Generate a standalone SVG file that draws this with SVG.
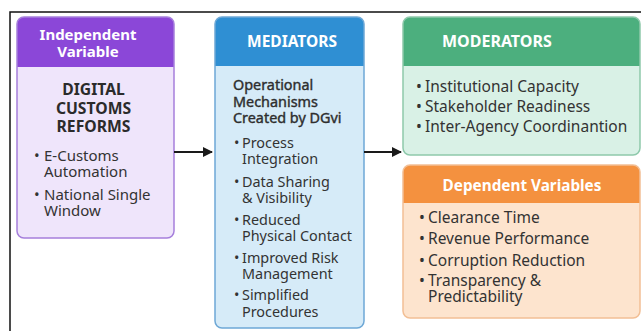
<svg xmlns="http://www.w3.org/2000/svg" width="641" height="331" viewBox="0 0 641 331">
<defs>
<style>
text{font-family:"Noto Sans","DejaVu Sans",sans-serif;fill:#333;}
.hd{font-weight:700;fill:#fff;}
.tt{font-weight:700;font-size:15.7px;fill:#2b2b2b;}
.p{font-size:15px;}
.md{font-size:14.4px;}
.m{font-size:14.4px;font-weight:400;fill:#2e2e2e;stroke:#2e2e2e;stroke-width:0.4px;}
.g{font-size:15.5px;}
.arrow{stroke:#1a1a1a;stroke-width:2;fill:none;}
</style>
<marker id="ah" viewBox="0 0 10 10" refX="9" refY="5" markerWidth="5" markerHeight="5" orient="auto" markerUnits="strokeWidth">
<path d="M0,0 L10,5 L0,10 z" fill="#1a1a1a"/>
</marker>
<clipPath id="cp"><rect x="17" y="17" width="157" height="221" rx="7"/></clipPath>
<clipPath id="cb"><rect x="215" y="17" width="149" height="311" rx="7"/></clipPath>
<clipPath id="cg"><rect x="403" y="17" width="237" height="138" rx="7"/></clipPath>
<clipPath id="co"><rect x="403" y="165" width="237" height="153" rx="7"/></clipPath>
</defs>
<rect width="641" height="331" fill="#fff"/>
<path d="M10,331 L10,12 L641,12" stroke="#111" stroke-width="1.5" fill="none"/>

<g id="independent">
<g clip-path="url(#cp)">
<rect x="17" y="17" width="157" height="221" fill="#efe5fb"/>
<rect x="17" y="17" width="157" height="50" fill="#8b47d8"/>
</g>
<rect x="17" y="17" width="157" height="221" rx="7" fill="none" stroke="#a67fdc" stroke-width="1.5"/>
<text class="hd" font-size="15" text-anchor="middle"><tspan x="88" y="40">Independent</tspan><tspan x="88" y="57">Variable</tspan></text>
<text class="tt" text-anchor="middle"><tspan x="93.5" y="95">DIGITAL</tspan><tspan x="93.5" y="113.5">CUSTOMS</tspan><tspan x="93.5" y="132">REFORMS</tspan></text>
<text class="p"><tspan x="34" y="161">•</tspan><tspan x="44">E-Customs</tspan><tspan x="44" y="177">Automation</tspan></text>
<text class="p"><tspan x="34" y="200">•</tspan><tspan x="44">National Single</tspan><tspan x="44" y="216">Window</tspan></text>
</g>

<g id="mediators">
<g clip-path="url(#cb)">
<rect x="215" y="17" width="149" height="311" fill="#d6ebf8"/>
<rect x="215" y="17" width="149" height="49" fill="#2f8fd3"/>
</g>
<rect x="215" y="17" width="149" height="311" rx="7" fill="none" stroke="#6ea8d6" stroke-width="1.5"/>
<text class="hd" font-size="15.5" x="292" y="47" text-anchor="middle">MEDIATORS</text>
<text class="m"><tspan x="233" y="90">Operational</tspan><tspan x="233" y="106.5">Mechanisms</tspan><tspan x="233" y="123">Created by DGvi</tspan></text>
<text class="md"><tspan x="234" y="148">•</tspan><tspan x="242">Process</tspan><tspan x="242" y="164">Integration</tspan></text>
<text class="md"><tspan x="234" y="187">•</tspan><tspan x="242">Data Sharing</tspan><tspan x="242" y="203">&amp; Visibility</tspan></text>
<text class="md"><tspan x="234" y="225">•</tspan><tspan x="242">Reduced</tspan><tspan x="242" y="241">Physical Contact</tspan></text>
<text class="md"><tspan x="234" y="263">•</tspan><tspan x="242">Improved Risk</tspan><tspan x="242" y="279">Management</tspan></text>
<text class="md"><tspan x="234" y="300">•</tspan><tspan x="242">Simplified</tspan><tspan x="242" y="317">Procedures</tspan></text>
</g>

<g id="moderators">
<g clip-path="url(#cg)">
<rect x="403" y="17" width="237" height="138" fill="#d9f1e6"/>
<rect x="403" y="17" width="237" height="49" fill="#4caf7e"/>
</g>
<rect x="403" y="17" width="237" height="138" rx="7" fill="none" stroke="#8ec9ab" stroke-width="1.5"/>
<text class="hd" font-size="16" x="442" y="47">MODERATORS</text>
<text class="g"><tspan x="416" y="92">•</tspan><tspan x="425">Institutional Capacity</tspan><tspan x="416" y="112">•</tspan><tspan x="425">Stakeholder Readiness</tspan><tspan x="416" y="132">•</tspan><tspan x="425">Inter-Agency Coordinantion</tspan></text>
</g>

<g id="dependent">
<g clip-path="url(#co)">
<rect x="403" y="165" width="237" height="153" fill="#fde4ce"/>
<rect x="403" y="165" width="237" height="38" fill="#f4913f"/>
</g>
<rect x="403" y="165" width="237" height="153" rx="7" fill="none" stroke="#f2bf95" stroke-width="1.5"/>
<text class="hd" font-size="15.3" x="522" y="191" text-anchor="middle">Dependent Variables</text>
<text class="g"><tspan x="419" y="223">•</tspan><tspan x="428">Clearance Time</tspan><tspan x="419" y="244">•</tspan><tspan x="428">Revenue Performance</tspan><tspan x="419" y="266">•</tspan><tspan x="428">Corruption Reduction</tspan><tspan x="419" y="286">•</tspan><tspan x="428">Transparency &amp;</tspan><tspan x="428" y="302">Predictability</tspan></text>
</g>

<g id="connectors">
<line class="arrow" x1="174" y1="152" x2="212" y2="152" marker-end="url(#ah)"/>
<line class="arrow" x1="364" y1="152" x2="401" y2="152" marker-end="url(#ah)"/>
</g>
</svg>
